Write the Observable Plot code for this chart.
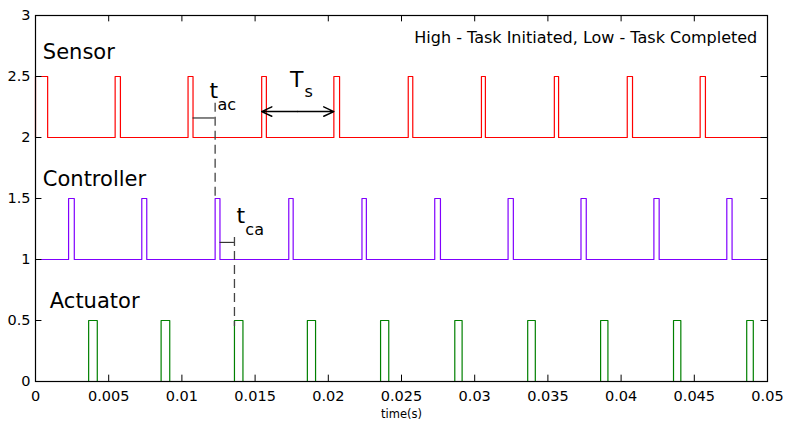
<!DOCTYPE html>
<html>
<head>
<meta charset="utf-8">
<script src="https://cdn.jsdelivr.net/npm/d3@7"></script>
<script src="https://cdn.jsdelivr.net/npm/@observablehq/plot@0.6"></script>
<style>
  html, body { margin: 0; padding: 0; background: #fff; }
  #chart { width: 785px; height: 430px; }
</style>
</head>
<body>
<div id="chart"></div>
<script>
// ---- data ----
const sensorRise     = [0,       0.00544, 0.01042, 0.01545, 0.02038, 0.02546, 0.03046, 0.03544, 0.04042, 0.04540];
const sensorFall     = [0.00083, 0.00580, 0.01076, 0.01577, 0.02077, 0.02577, 0.03073, 0.03573, 0.04078, 0.04576];
const controllerRise = [0.00226, 0.00726, 0.01227, 0.01730, 0.02230, 0.02727, 0.03228, 0.03726, 0.04224, 0.04722];
const controllerFall = [0.00265, 0.00760, 0.01260, 0.01760, 0.02260, 0.02766, 0.03264, 0.03762, 0.04260, 0.04758];
const actuatorRise   = [0.00363, 0.00858, 0.01359, 0.01857, 0.02357, 0.02864, 0.03362, 0.03860, 0.04358, 0.04858];
const actuatorFall   = [0.00422, 0.00917, 0.01417, 0.01913, 0.02413, 0.02914, 0.03414, 0.03910, 0.04408, 0.04903];
const levels = {Sensor: [2, 2.5], Controller: [1, 1.5], Actuator: [0, 0.5]};
const seriesNames = ["Sensor", "Controller", "Actuator"];
const xTicks = [0, 0.005, 0.01, 0.015, 0.02, 0.025, 0.03, 0.035, 0.04, 0.045, 0.05];
const xTickLabels = ["0", "0.005", "0.01", "0.015", "0.02", "0.025", "0.03", "0.035", "0.04", "0.045", "0.05"];
const yTicks = [0, 0.5, 1, 1.5, 2, 2.5, 3];
const yTickLabels = ["0", "0.5", "1", "1.5", "2", "2.5", "3"];
const noteText = "High - Task Initiated, Low - Task Completed";
const xLabel = "time(s)";
const tsPeriodIndex = 3;   // Ts arrow spans sensor pulse 3 -> 4
const delayIndex = 2;      // t_ac / t_ca shown on the third cycle

// ---- build step waveforms ----
function steps(rise, fall, [lo, hi], name) {
  const pts = [{t: 0, v: lo, s: name}];
  rise.forEach((r, i) => {
    pts.push({t: r, v: lo, s: name}, {t: r, v: hi, s: name}, {t: fall[i], v: hi, s: name}, {t: fall[i], v: lo, s: name});
  });
  pts.push({t: 0.05, v: lo, s: name});
  return pts;
}
const waves = [
  ...steps(sensorRise, sensorFall, levels.Sensor, "Sensor"),
  ...steps(controllerRise, controllerFall, levels.Controller, "Controller"),
  ...steps(actuatorRise, actuatorFall, levels.Actuator, "Actuator")
];

const tickLenY = 0.052, tickLenX = 0.00044;
const font = "DejaVu Sans";

const tac = {x1: sensorFall[delayIndex], x2: controllerRise[delayIndex]};
const tca = {x1: controllerFall[delayIndex], x2: actuatorRise[delayIndex]};
const ts  = {x1: sensorRise[tsPeriodIndex], x2: sensorRise[tsPeriodIndex + 1]};
const tsMid = (ts.x1 + ts.x2) / 2;

const chart = Plot.plot({
  width: 785,
  height: 430,
  marginLeft: 35,
  marginRight: 18,
  marginTop: 15,
  marginBottom: 49,
  x: {domain: [0, 0.05]},
  y: {domain: [0, 3]},
  style: {fontFamily: font, fontSize: "14px", background: "white", color: "black"},
  marks: [
    // waveforms
    Plot.line(waves, {x: "t", y: "v", z: "s", stroke: "s", strokeWidth: 1.2, curve: "linear"}),
    // inward ticks
    Plot.ruleX(xTicks, {x: d => d, y1: 0, y2: tickLenY, stroke: "black", strokeWidth: 1}),
    Plot.ruleX(xTicks, {x: d => d, y1: 3, y2: 3 - tickLenY, stroke: "black", strokeWidth: 1}),
    Plot.ruleY(yTicks, {y: d => d, x1: 0, x2: tickLenX, stroke: "black", strokeWidth: 1}),
    Plot.ruleY(yTicks, {y: d => d, x1: 0.05, x2: 0.05 - tickLenX, stroke: "black", strokeWidth: 1}),
    Plot.frame({stroke: "black", strokeWidth: 1.2}),
    Plot.axisX(xTicks, {tickSize: 0, tickPadding: 9, tickFormat: d => xTickLabels[xTicks.indexOf(d)], label: null, fontSize: 14.5}),
    Plot.axisY(yTicks, {tickSize: 0, tickPadding: 5, tickFormat: d => yTickLabels[yTicks.indexOf(d)], label: null, fontSize: 14.5}),
    Plot.text([xLabel], {frameAnchor: "bottom", dy: 36, fontSize: 11.5, fill: "black"}),
    // series labels
    Plot.text([seriesNames[0]], {x: 0.0005, y: 2.70, text: d => d, textAnchor: "start", fontSize: 21, fill: "black"}),
    Plot.text([seriesNames[1]], {x: 0.0005, y: 1.66, text: d => d, textAnchor: "start", fontSize: 21, fill: "black"}),
    Plot.text([seriesNames[2]], {x: 0.00098, y: 0.66, text: d => d, textAnchor: "start", fontSize: 21, fill: "black"}),
    // note
    Plot.text([noteText], {x: 0.0493, y: 2.82, text: d => d, textAnchor: "end", fontSize: 16, fill: "black"}),
    // t_ac bracket
    Plot.ruleY([2.16], {x1: tac.x1, x2: tac.x2, stroke: "#333", strokeWidth: 1.2}),
    Plot.ruleX([tac.x2], {y1: 2.28, y2: 1.5, stroke: "#444", strokeWidth: 1.3, strokeDasharray: "9,5"}),
    Plot.text(["t"], {x: 0.01218, y: 2.38, fontSize: 22, fill: "black"}),
    Plot.text(["ac"], {x: 0.01306, y: 2.27, fontSize: 16, fill: "black"}),
    // t_ca bracket
    Plot.ruleY([1.14], {x1: tca.x1, x2: tca.x2, stroke: "#333", strokeWidth: 1.2}),
    Plot.ruleX([tca.x2], {y1: 1.18, y2: 0.45, stroke: "#444", strokeWidth: 1.3, strokeDasharray: "9,5"}),
    Plot.text(["t"], {x: 0.01402, y: 1.36, fontSize: 22, fill: "black"}),
    Plot.text(["ca"], {x: 0.01497, y: 1.24, fontSize: 16, fill: "black"}),
    // Ts double arrow
    Plot.arrow([0], {x1: tsMid, x2: ts.x1, y1: 2.213, y2: 2.213, stroke: "black", strokeWidth: 1.4, headLength: 12, headAngle: 50}),
    Plot.arrow([0], {x1: tsMid, x2: ts.x2, y1: 2.213, y2: 2.213, stroke: "black", strokeWidth: 1.4, headLength: 12, headAngle: 50}),
    Plot.text(["T"], {x: 0.01784, y: 2.47, fontSize: 22, fill: "black"}),
    Plot.text(["s"], {x: 0.01866, y: 2.37, fontSize: 16, fill: "black"})
  ],
  color: {domain: seriesNames, range: ["#ff0000", "#8000ff", "#008000"]}
});
document.getElementById("chart").appendChild(chart);
</script>
</body>
</html>
